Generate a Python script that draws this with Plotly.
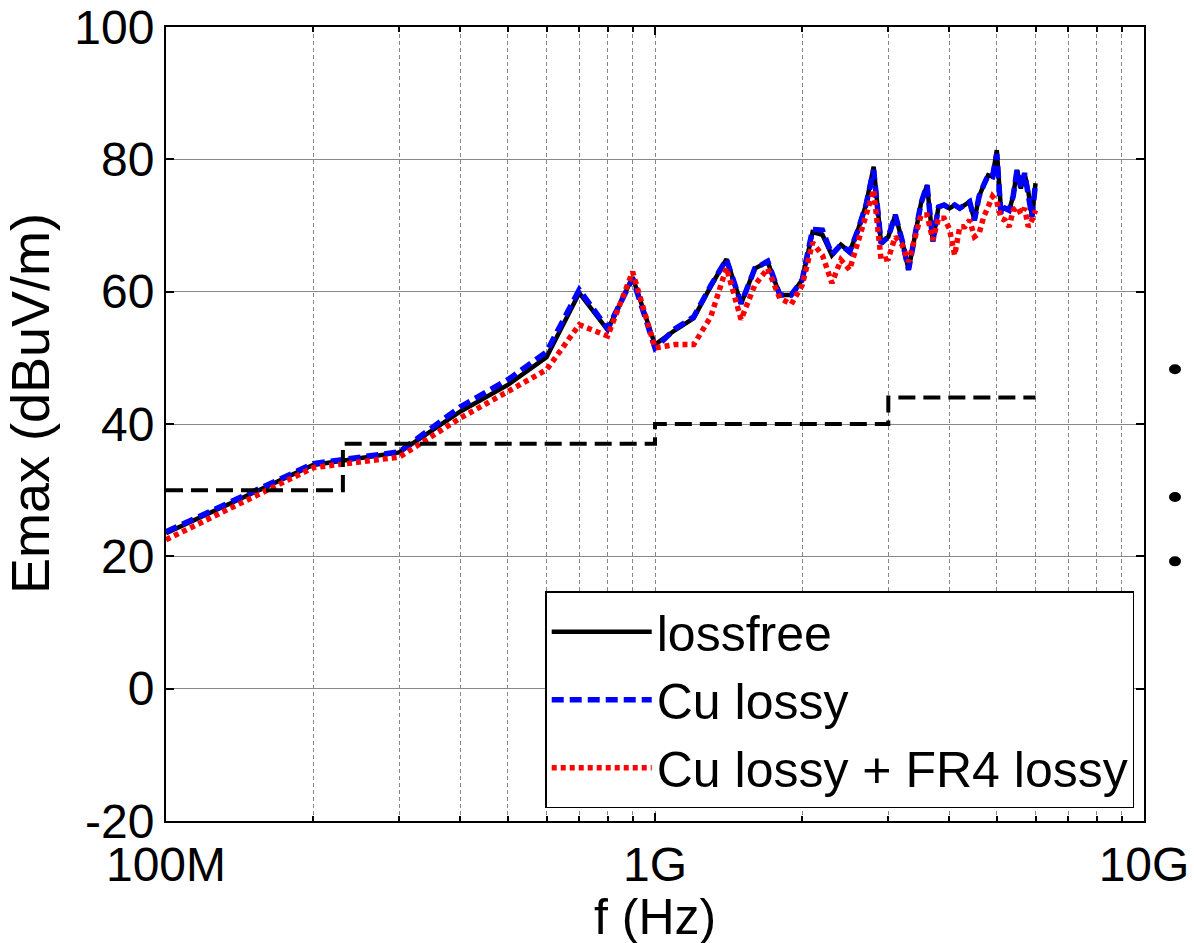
import plotly.graph_objects as go

# Frequency grid (GHz), 100 MHz steps
freq_ghz = [0.1, 0.2, 0.3, 0.4, 0.5, 0.6, 0.7, 0.8, 0.9, 1.0,
            1.1, 1.2, 1.3, 1.4, 1.5, 1.6, 1.7, 1.8, 1.9, 2.0,
            2.1, 2.2, 2.3, 2.4, 2.5, 2.6, 2.7, 2.8, 2.9, 3.0,
            3.1, 3.2, 3.3, 3.4, 3.5, 3.6, 3.7, 3.8, 3.9, 4.0,
            4.1, 4.2, 4.3, 4.4, 4.5, 4.6, 4.7, 4.8, 4.9, 5.0,
            5.1, 5.2, 5.3, 5.4, 5.5, 5.6, 5.7, 5.8, 5.9, 6.0]

# Maximum field strength (dBuV/m)
emax_lossfree = [23.5, 33.8, 35.7, 41.9, 45.9, 50.1, 59.8, 54.2, 62.2, 52.0,
                 54.2, 56.0, 60.8, 64.9, 58.2, 63.5, 64.5, 59.5, 59.5, 61.8,
                 69.0, 68.6, 65.5, 67.1, 66.0, 69.3, 73.1, 78.9, 67.3, 68.3,
                 71.6, 67.8, 63.3, 68.8, 73.4, 76.1, 67.6, 72.8, 73.1, 72.6,
                 73.1, 72.6, 73.1, 73.6, 70.8, 74.4, 76.1, 77.6, 77.4, 81.4,
                 72.3, 72.6, 72.3, 74.4, 78.4, 75.6, 77.9, 75.1, 71.3, 76.4]

emax_cu = [23.7, 34.0, 35.8, 42.6, 46.7, 50.9, 60.3, 54.4, 62.0, 51.5,
           54.4, 56.2, 60.9, 64.9, 58.2, 63.5, 64.6, 59.5, 59.5, 61.8,
           69.4, 69.3, 65.6, 67.1, 66.0, 69.3, 73.1, 78.4, 67.3, 68.3,
           71.6, 67.8, 63.3, 68.8, 73.4, 76.1, 67.6, 72.8, 73.1, 72.6,
           73.1, 72.6, 73.1, 73.6, 70.8, 74.4, 76.1, 77.6, 77.4, 80.8,
           71.6, 72.6, 72.3, 74.4, 78.4, 75.6, 77.9, 75.1, 71.3, 76.4]

emax_cu_fr4 = [22.5, 33.4, 35.0, 40.9, 44.9, 48.2, 55.0, 53.3, 63.0, 51.5,
               52.0, 52.0, 56.2, 63.6, 55.8, 61.0, 63.5, 59.0, 58.1, 61.0,
               67.4, 65.5, 61.3, 64.8, 63.3, 67.3, 71.3, 75.4, 64.8, 65.0,
               68.3, 67.1, 64.5, 67.8, 71.6, 71.6, 67.8, 71.1, 71.1, 69.5,
               65.5, 69.8, 69.8, 70.8, 68.3, 68.8, 71.3, 72.8, 74.4, 73.6,
               71.1, 70.8, 69.8, 72.3, 72.8, 71.8, 72.6, 69.8, 70.8, 72.3]

# Radiated emission limit (step breakpoints, GHz / dBuV/m)
limit_ghz = [0.1, 0.23, 1.0, 3.0, 6.0]
limit_db = [30, 37, 40, 44, 44]

x_tick_vals = [1e8, 1e9, 1e10]
x_tick_text = ["100M", "1G", "10G"]
y_tick_vals = [-20, 0, 20, 40, 60, 80, 100]
y_tick_text = ["-20", "0", "20", "40", "60", "80", "100"]

hz = lambda seq: [v * 1e9 for v in seq]

FONT = "Liberation Sans, Arial, sans-serif"
GRID = "#888888"

fig = go.Figure()
fig.add_trace(go.Scatter(x=hz(freq_ghz), y=emax_lossfree, mode="lines",
                         name="lossfree",
                         line=dict(color="black", width=4.5)))
fig.add_trace(go.Scatter(x=hz(freq_ghz), y=emax_cu, mode="lines",
                         name="Cu lossy",
                         line=dict(color="#0000ff", width=5.5, dash="12px,6px")))
fig.add_trace(go.Scatter(x=hz(freq_ghz), y=emax_cu_fr4, mode="lines",
                         name="Cu lossy + FR4 lossy",
                         line=dict(color="#ff0000", width=5.5, dash="5px,4px")))
fig.add_trace(go.Scatter(x=hz(limit_ghz), y=limit_db, mode="lines",
                         line_shape="hv", showlegend=False,
                         line=dict(color="black", width=4, dash="17px,8px")))

minor_x = [k * 1e8 for k in range(2, 10)] + [k * 1e9 for k in range(2, 10)]

fig.update_xaxes(type="log", range=[8, 10], automargin=False,
                 tickmode="array", tickvals=x_tick_vals, ticktext=x_tick_text,
                 showgrid=True, gridcolor=GRID, gridwidth=1, griddash="4px,3px",
                 ticks="inside", ticklen=8, tickwidth=1.5, tickcolor="black",
                 minor=dict(tickmode="array", tickvals=minor_x, ticks="inside",
                            ticklen=5, tickcolor="black", showgrid=True,
                            gridcolor=GRID, gridwidth=1, griddash="4px,3px"),
                 showline=True, linecolor="black", linewidth=2, mirror="allticks",
                 zeroline=False,
                 tickfont=dict(family=FONT, size=48, color="black"))
fig.update_yaxes(range=[-20, 100], automargin=False,
                 tickmode="array", tickvals=y_tick_vals, ticktext=y_tick_text,
                 showgrid=True, gridcolor=GRID, gridwidth=1,
                 ticks="inside", ticklen=8, tickwidth=1.5, tickcolor="black",
                 showline=True, linecolor="black", linewidth=2, mirror="allticks",
                 zeroline=False,
                 tickfont=dict(family=FONT, size=48, color="black"))

fig.add_annotation(text="Emax (dBuV/m)", xref="paper", yref="paper",
                   x=0, y=0.5, xanchor="right", yanchor="middle",
                   xshift=-104, yshift=20, textangle=-90, showarrow=False,
                   font=dict(family=FONT, size=54, color="black"))
fig.add_annotation(text="f (Hz)", xref="paper", yref="paper",
                   x=0.5, y=0, xanchor="center", yanchor="top",
                   yshift=-66, showarrow=False,
                   font=dict(family=FONT, size=50, color="black"))

# three bullet marks to the right of the axes
for yp in [0.569, 0.408, 0.327]:
    fig.add_shape(type="circle", xref="paper", yref="paper",
                  xsizemode="pixel", ysizemode="pixel",
                  xanchor=1.0317, yanchor=yp,
                  x0=-6, x1=6, y0=-5, y1=5,
                  fillcolor="black", line=dict(color="black", width=0))

fig.update_layout(
    width=1194, height=943, autosize=False,
    margin=dict(l=166, r=50, t=27, b=122),
    paper_bgcolor="white", plot_bgcolor="white",
    legend=dict(x=0.99, y=0.016, xanchor="right", yanchor="bottom",
                bgcolor="white", bordercolor="black", borderwidth=1.5,
                font=dict(family=FONT, size=50, color="black"),
                itemwidth=100, tracegroupgap=0),
)

fig.write_html("out.html")
